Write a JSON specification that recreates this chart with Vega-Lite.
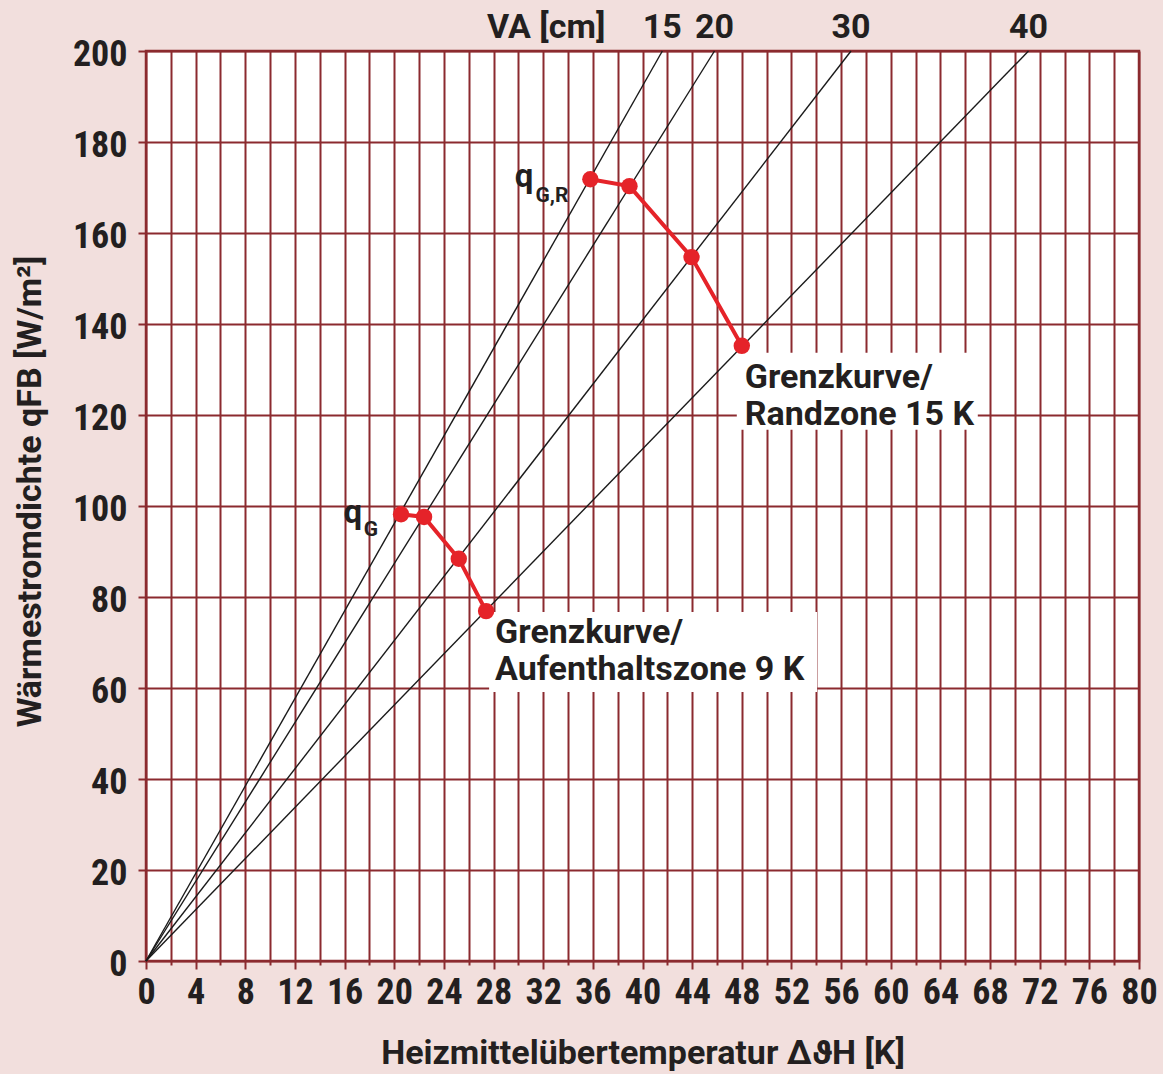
{
  "$schema": "https://vega.github.io/schema/vega-lite/v6.json",
  "width": 993,
  "height": 910,
  "autosize": {"type": "none"},
  "padding": {"left": 146, "top": 51, "right": 24, "bottom": 113},
  "background": "#f2dfdd",
  "config": {
    "view": {"fill": "white", "stroke": "#8b2a2f", "strokeWidth": 2.5},
    "axis": {
      "domain": false,
      "gridColor": "#8b2a2f",
      "gridWidth": 2,
      "gridOpacity": 1,
      "tickColor": "#8b2a2f",
      "tickWidth": 2,
      "labelFont": "Roboto Condensed, Liberation Sans Narrow, Roboto, sans-serif",
      "labelFontWeight": "bold",
      "labelFontSize": 36,
      "labelColor": "#231f20",
      "titleFont": "Roboto, sans-serif",
      "titleFontWeight": "bold",
      "titleFontSize": 34,
      "titleColor": "#231f20"
    }
  },
  "datasets": {
    "va": [
      {"va": "15", "x": 0, "y": 0}, {"va": "15", "x": 41.6, "y": 200},
      {"va": "20", "x": 0, "y": 0}, {"va": "20", "x": 45.8, "y": 200},
      {"va": "30", "x": 0, "y": 0}, {"va": "30", "x": 56.8, "y": 200},
      {"va": "40", "x": 0, "y": 0}, {"va": "40", "x": 71.1, "y": 200}
    ],
    "curves": [
      {"series": "qGR", "step": 1, "x": 35.8, "y": 171.8},
      {"series": "qGR", "step": 2, "x": 38.95, "y": 170.3},
      {"series": "qGR", "step": 3, "x": 43.95, "y": 154.7},
      {"series": "qGR", "step": 4, "x": 48.0, "y": 135.2},
      {"series": "qG", "step": 1, "x": 20.55, "y": 98.2},
      {"series": "qG", "step": 2, "x": 22.4, "y": 97.6},
      {"series": "qG", "step": 3, "x": 25.2, "y": 88.4},
      {"series": "qG", "step": 4, "x": 27.4, "y": 76.9}
    ]
  },
  "layer": [
    {
      "data": {"name": "va"},
      "mark": {"type": "line", "color": "#1a1a1a", "strokeWidth": 1.4},
      "encoding": {
        "x": {
          "field": "x", "type": "quantitative",
          "scale": {"domain": [0, 80], "nice": false, "zero": true},
          "axis": {
            "values": [0,2,4,6,8,10,12,14,16,18,20,22,24,26,28,30,32,34,36,38,40,42,44,46,48,50,52,54,56,58,60,62,64,66,68,70,72,74,76,78,80],
            "tickCount": 100,
            "labelExpr": "datum.value % 4 === 0 ? datum.label : ''",
            "tickSize": {"condition": {"test": "datum.value % 4 === 0", "value": 8}, "value": 4},
            "labelPadding": 6,
            "labelOverlap": false,
            "labelFlush": false,
            "labelBound": false,
            "title": "Heizmittelübertemperatur ΔϑH [K]",
            "titleY": 102,
            "titleBaseline": "alphabetic"
          }
        },
        "y": {
          "field": "y", "type": "quantitative",
          "scale": {"domain": [0, 200], "nice": false, "zero": true},
          "axis": {
            "values": [0,20,40,60,80,100,120,140,160,180,200],
            "tickCount": 100,
            "tickSize": 8,
            "labelPadding": 11,
            "labelOffset": 3,
            "labelOverlap": false,
            "labelFlush": false,
            "labelBound": false,
            "title": "Wärmestromdichte qFB [W/m²]",
            "titleX": -106,
            "titleY": 440,
            "titleBaseline": "alphabetic"
          }
        },
        "detail": {"field": "va", "type": "nominal"}
      }
    },
    {
      "data": {"name": "va"},
      "transform": [{"filter": "datum.y === 200"}],
      "mark": {"type": "text", "align": "center", "baseline": "alphabetic", "dy": -13, "font": "Roboto, sans-serif", "fontWeight": "bold", "fontSize": 34, "color": "#231f20"},
      "encoding": {
        "x": {"field": "x", "type": "quantitative"},
        "y": {"field": "y", "type": "quantitative"},
        "text": {"field": "va", "type": "nominal"}
      }
    },
    {
      "data": {"name": "va"},
      "transform": [{"filter": "datum.y === 200 && datum.va === '15'"}],
      "mark": {"type": "text", "align": "right", "baseline": "alphabetic", "dx": -57, "dy": -13, "font": "Roboto, sans-serif", "fontWeight": "bold", "fontSize": 34, "color": "#231f20"},
      "encoding": {
        "x": {"field": "x", "type": "quantitative"},
        "y": {"field": "y", "type": "quantitative"},
        "text": {"value": "VA [cm]"}
      }
    },
    {
      "data": {"name": "curves"},
      "transform": [{"filter": "datum.series === 'qGR' && datum.step === 4"}],
      "mark": {"type": "rect", "fill": "white", "xOffset": -5, "x2Offset": 236, "yOffset": 7, "y2Offset": 84},
      "encoding": {
        "x": {"field": "x", "type": "quantitative"},
        "x2": {"field": "x"},
        "y": {"field": "y", "type": "quantitative"},
        "y2": {"field": "y"}
      }
    },
    {
      "data": {"name": "curves"},
      "transform": [{"filter": "datum.series === 'qG' && datum.step === 4"}],
      "mark": {"type": "rect", "fill": "white", "xOffset": 3, "x2Offset": 331, "yOffset": 1, "y2Offset": 81},
      "encoding": {
        "x": {"field": "x", "type": "quantitative"},
        "x2": {"field": "x"},
        "y": {"field": "y", "type": "quantitative"},
        "y2": {"field": "y"}
      }
    },
    {
      "data": {"name": "curves"},
      "mark": {"type": "line", "color": "#e52329", "strokeWidth": 4},
      "encoding": {
        "x": {"field": "x", "type": "quantitative"},
        "y": {"field": "y", "type": "quantitative"},
        "detail": {"field": "series", "type": "nominal"},
        "order": {"field": "step", "type": "quantitative"}
      }
    },
    {
      "data": {"name": "curves"},
      "mark": {"type": "point", "filled": true, "opacity": 1, "color": "#e52329", "size": 270},
      "encoding": {
        "x": {"field": "x", "type": "quantitative"},
        "y": {"field": "y", "type": "quantitative"}
      }
    },
    {
      "data": {"name": "curves"},
      "transform": [{"filter": "datum.series === 'qGR' && datum.step === 1"}],
      "mark": {"type": "text", "align": "right", "baseline": "alphabetic", "dx": -57, "dy": 8, "font": "Roboto, sans-serif", "fontWeight": "bold", "fontSize": 33, "color": "#231f20"},
      "encoding": {
        "x": {"field": "x", "type": "quantitative"},
        "y": {"field": "y", "type": "quantitative"},
        "text": {"value": "q"}
      }
    },
    {
      "data": {"name": "curves"},
      "transform": [{"filter": "datum.series === 'qGR' && datum.step === 1"}],
      "mark": {"type": "text", "align": "right", "baseline": "alphabetic", "dx": -22, "dy": 23, "font": "Roboto, sans-serif", "fontWeight": "bold", "fontSize": 21, "color": "#231f20"},
      "encoding": {
        "x": {"field": "x", "type": "quantitative"},
        "y": {"field": "y", "type": "quantitative"},
        "text": {"value": "G,R"}
      }
    },
    {
      "data": {"name": "curves"},
      "transform": [{"filter": "datum.series === 'qG' && datum.step === 1"}],
      "mark": {"type": "text", "align": "right", "baseline": "alphabetic", "dx": -39, "dy": 9, "font": "Roboto, sans-serif", "fontWeight": "bold", "fontSize": 33, "color": "#231f20"},
      "encoding": {
        "x": {"field": "x", "type": "quantitative"},
        "y": {"field": "y", "type": "quantitative"},
        "text": {"value": "q"}
      }
    },
    {
      "data": {"name": "curves"},
      "transform": [{"filter": "datum.series === 'qG' && datum.step === 1"}],
      "mark": {"type": "text", "align": "right", "baseline": "alphabetic", "dx": -23, "dy": 22, "font": "Roboto, sans-serif", "fontWeight": "bold", "fontSize": 21, "color": "#231f20"},
      "encoding": {
        "x": {"field": "x", "type": "quantitative"},
        "y": {"field": "y", "type": "quantitative"},
        "text": {"value": "G"}
      }
    },
    {
      "data": {"name": "curves"},
      "transform": [{"filter": "datum.series === 'qGR' && datum.step === 4"}],
      "mark": {"type": "text", "align": "left", "baseline": "alphabetic", "dx": 3, "dy": 42, "lineBreak": "\n", "lineHeight": 37, "font": "Roboto, sans-serif", "fontWeight": "bold", "fontSize": 34, "color": "#231f20"},
      "encoding": {
        "x": {"field": "x", "type": "quantitative"},
        "y": {"field": "y", "type": "quantitative"},
        "text": {"value": "Grenzkurve/\nRandzone 15 K"}
      }
    },
    {
      "data": {"name": "curves"},
      "transform": [{"filter": "datum.series === 'qG' && datum.step === 4"}],
      "mark": {"type": "text", "align": "left", "baseline": "alphabetic", "dx": 9, "dy": 32, "lineBreak": "\n", "lineHeight": 37, "font": "Roboto, sans-serif", "fontWeight": "bold", "fontSize": 34, "color": "#231f20"},
      "encoding": {
        "x": {"field": "x", "type": "quantitative"},
        "y": {"field": "y", "type": "quantitative"},
        "text": {"value": "Grenzkurve/\nAufenthaltszone 9 K"}
      }
    }
  ]
}
